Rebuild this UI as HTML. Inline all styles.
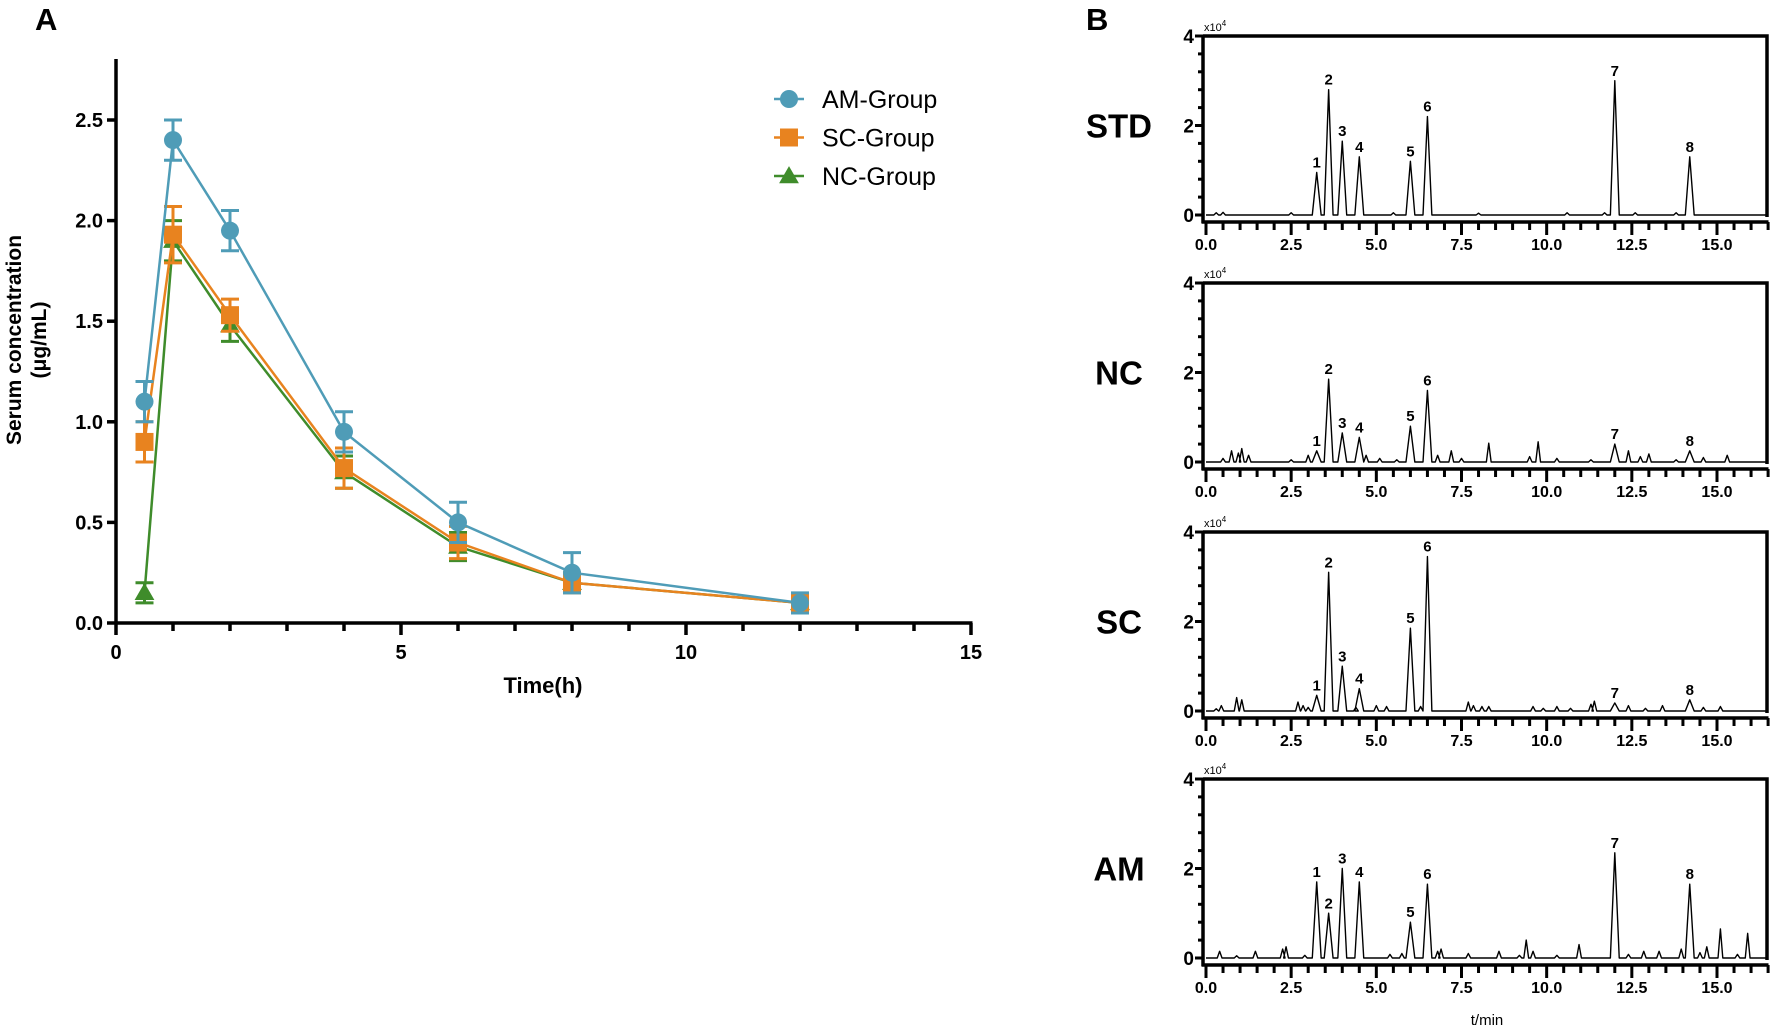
<!DOCTYPE html>
<html><head><meta charset="utf-8">
<style>
html,body{margin:0;padding:0;background:#fff;}
svg{display:block;font-family:"Liberation Sans",Arial,sans-serif;}
</style></head>
<body>
<svg id="fig" width="1772" height="1032" viewBox="0 0 1772 1032" xmlns="http://www.w3.org/2000/svg">
<g id="panelA"></g>
<g id="panelB"></g>
</svg>
<script>
// ---------- Panel A data ----------
const timesA = [0.5, 1, 2, 4, 6, 8, 12];
const amMean = [1.10, 2.40, 1.95, 0.95, 0.50, 0.25, 0.10];
const amErr  = [0.10, 0.10, 0.10, 0.10, 0.10, 0.10, 0.05];
const scMean = [0.90, 1.93, 1.53, 0.77, 0.40, 0.20, 0.10];
const scErr  = [0.10, 0.14, 0.08, 0.10, 0.08, 0.05, 0.03];
const ncMean = [0.15, 1.90, 1.48, 0.75, 0.38, 0.20, 0.10];
const ncErr  = [0.05, 0.10, 0.08, 0.08, 0.07, 0.04, 0.03];
const yTicksA = [0.0, 0.5, 1.0, 1.5, 2.0, 2.5];
const xTicksA = [0, 5, 10, 15];

// ---------- Panel B data ----------
const sampleNames = ["STD", "NC", "SC", "AM"];
const peakTimes = [3.25, 3.6, 4.0, 4.5, 6.0, 6.5, 12.0, 14.2];
const stdHeights = [0.95, 2.8, 1.65, 1.3, 1.2, 2.2, 3.0, 1.3];
const ncHeights  = [0.25, 1.85, 0.65, 0.55, 0.8, 1.6, 0.4, 0.25];
const scHeights  = [0.35, 3.1, 1.0, 0.5, 1.85, 3.45, 0.18, 0.25];
const amHeights  = [1.7, 1.0, 2.0, 1.7, 0.8, 1.65, 2.35, 1.65];
const stdMinorT = [0.3, 0.5, 2.5, 5.5, 8.0, 10.6, 11.7, 12.6, 13.8];
const stdMinorH = [0.05, 0.06, 0.05, 0.05, 0.04, 0.05, 0.05, 0.05, 0.05];
const ncMinorT = [0.5, 0.75, 0.95, 1.05, 1.25, 2.5, 3.0, 4.7, 5.1, 5.6, 6.8, 7.2, 7.5, 8.3, 9.5, 9.75, 10.3, 11.3, 12.4, 12.75, 13.0, 13.8, 14.6, 15.3];
const ncMinorH = [0.08, 0.25, 0.2, 0.3, 0.15, 0.05, 0.15, 0.15, 0.08, 0.05, 0.15, 0.25, 0.08, 0.42, 0.12, 0.45, 0.08, 0.05, 0.25, 0.12, 0.18, 0.05, 0.1, 0.15];
const scMinorT = [0.3, 0.45, 0.9, 1.05, 2.7, 2.85, 3.0, 4.4, 5.0, 5.3, 6.3, 7.7, 7.85, 8.1, 8.3, 9.6, 9.9, 10.3, 10.7, 11.3, 11.4, 12.4, 12.9, 13.4, 14.6, 15.1];
const scMinorH = [0.05, 0.12, 0.3, 0.25, 0.2, 0.12, 0.08, 0.08, 0.12, 0.1, 0.1, 0.2, 0.12, 0.1, 0.1, 0.1, 0.06, 0.1, 0.06, 0.15, 0.22, 0.12, 0.06, 0.12, 0.08, 0.1];
const amMinorT = [0.4, 0.9, 1.45, 2.25, 2.35, 2.9, 5.4, 5.75, 6.8, 6.9, 7.7, 8.6, 9.2, 9.4, 9.6, 10.3, 10.95, 12.4, 12.85, 13.3, 13.95, 14.5, 14.7, 15.1, 15.6, 15.9];
const amMinorH = [0.15, 0.05, 0.15, 0.2, 0.25, 0.06, 0.08, 0.1, 0.15, 0.2, 0.1, 0.15, 0.06, 0.4, 0.15, 0.06, 0.3, 0.08, 0.15, 0.15, 0.2, 0.12, 0.25, 0.65, 0.08, 0.55];
const xTicksB = [0, 2.5, 5, 7.5, 10, 12.5, 15];
const yTicksB = [0, 2, 4];

const NS = "http://www.w3.org/2000/svg";
function mk(tag, attrs, parent, text) {
  const e = document.createElementNS(NS, tag);
  for (const k in attrs) e.setAttribute(k, attrs[k]);
  if (text !== undefined) e.textContent = text;
  parent.appendChild(e);
  return e;
}

// ---------- Panel A ----------
(function(){
  const g = document.getElementById('panelA');
  const x0 = 116, pxPerH = (971 - 116) / 15;
  const y0 = 623, pxPerU = (623 - 120) / 2.5;
  const xs = v => x0 + v * pxPerH;
  const ys = v => y0 - v * pxPerU;

  let t = mk('text', {x: 35, y: 30, 'font-size': 31, 'font-weight': 'bold'}, g, 'A');
   

  let ax = mk('line', {x1: x0, y1: 59, x2: x0, y2: y0 + 1.5, stroke: '#000', 'stroke-width': 3.5}, g);
   
  let axx = mk('line', {x1: x0 - 1.5, y1: y0, x2: xs(15) + 1.5, y2: y0, stroke: '#000', 'stroke-width': 3.5}, g);
   

  yTicksA.forEach(v => {
    mk('line', {x1: x0 - 9, y1: ys(v), x2: x0, y2: ys(v), stroke: '#000', 'stroke-width': 3.5}, g);
    const l = mk('text', {x: x0 - 13, y: ys(v) + 7, 'font-size': 20, 'font-weight': 'bold', 'text-anchor': 'end'}, g, v.toFixed(1));
     
  });
  for (let h = 1; h <= 15; h++) {
    const len = (h % 5 === 0) ? 12 : 8;
    mk('line', {x1: xs(h), y1: y0, x2: xs(h), y2: y0 + len, stroke: '#000', 'stroke-width': 3.5}, g);
  }
  mk('line', {x1: xs(0), y1: y0, x2: xs(0), y2: y0 + 12, stroke: '#000', 'stroke-width': 3.5}, g);
  xTicksA.forEach(v => {
    const l = mk('text', {x: xs(v), y: y0 + 36, 'font-size': 20, 'font-weight': 'bold', 'text-anchor': 'middle'}, g, String(v));
     
  });
  let xt = mk('text', {x: 543, y: 693, 'font-size': 22, 'font-weight': 'bold', 'text-anchor': 'middle'}, g, 'Time(h)');
   
  let yt = mk('text', {x: 0, y: 0, 'font-size': 21, 'font-weight': 'bold', 'text-anchor': 'middle', transform: 'translate(21,340) rotate(-90)'}, g, 'Serum concentration');
   
  let yt2 = mk('text', {x: 0, y: 0, 'font-size': 21, 'font-weight': 'bold', 'text-anchor': 'middle', transform: 'translate(46,340) rotate(-90)'}, g, '(μg/mL)');
   

  const series = [
    {name: 'nc', mean: ncMean, err: ncErr, color: '#3f8c2b', marker: 'tri'},
    {name: 'sc', mean: scMean, err: scErr, color: '#e8831f', marker: 'sq'},
    {name: 'am', mean: amMean, err: amErr, color: '#4f9cb7', marker: 'circ'}
  ];
  function marker(gp, type, cx, cy, color, r) {
    if (type === 'circ') return mk('circle', {cx: cx, cy: cy, r: r, fill: color}, gp);
    if (type === 'sq') return mk('rect', {x: cx - r, y: cy - r, width: 2 * r, height: 2 * r, fill: color}, gp);
    return mk('polygon', {points: `${cx},${cy - r * 1.1} ${cx - r * 1.1},${cy + r * 0.8} ${cx + r * 1.1},${cy + r * 0.8}`, fill: color}, gp);
  }
  series.forEach(s => {
    const sg = mk('g', {}, g);
     
    const pts = timesA.map((tt, i) => xs(tt) + ',' + ys(s.mean[i])).join(' ');
    const pl = mk('polyline', {points: pts, fill: 'none', stroke: s.color, 'stroke-width': 2.5}, sg);
     
    timesA.forEach((tt, i) => {
      const cx = xs(tt), top = ys(s.mean[i] + s.err[i]), bot = ys(Math.max(0, s.mean[i] - s.err[i]));
      const eb = mk('path', {d: `M${cx},${top}V${bot}M${cx - 9},${top}H${cx + 9}M${cx - 9},${bot}H${cx + 9}`, stroke: s.color, 'stroke-width': 3, fill: 'none'}, sg);
       
      const m = marker(sg, s.marker, cx, ys(s.mean[i]), s.color, 9);
       
    });
  });

  const leg = mk('g', {}, g);
   
  const legItems = [['AM-Group', '#4f9cb7', 'circ'], ['SC-Group', '#e8831f', 'sq'], ['NC-Group', '#3f8c2b', 'tri']];
  legItems.forEach((it, i) => {
    const ly = 99 + i * 38.5;
    const eg = mk('g', {}, leg);
     
    mk('line', {x1: 774, y1: ly, x2: 804, y2: ly, stroke: it[1], 'stroke-width': 2.5}, eg);
    marker(eg, it[2], 789, ly, it[1], 9);
    mk('text', {x: 822, y: ly + 9, 'font-size': 25}, eg, it[0]);
  });
})();

// ---------- Panel B ----------
(function(){
  const g = document.getElementById('panelB');
  let t = mk('text', {x: 1086, y: 30, 'font-size': 31, 'font-weight': 'bold'}, g, 'B');
   
  const heights = [stdHeights, ncHeights, scHeights, amHeights];
  const minT = [stdMinorT, ncMinorT, scMinorT, amMinorT];
  const minH = [stdMinorH, ncMinorH, scMinorH, amMinorH];
  const zeros = [215, 462, 711, 958];
  const axL = 1203, xR = 1767;
  const xs = v => 1206 + v * (1717 - 1206) / 15;
  sampleNames.forEach((name, k) => {
    const z = zeros[k], top = z - 179;
    const ys = v => z - v * (179 / 4);
    const sg = mk('g', {}, g);
     
    const nl = mk('text', {x: 1119, y: ys(2) + 12, 'font-size': 33, 'font-weight': 'bold', 'text-anchor': 'middle'}, sg, name);
     
    mk('path', {d: `M${axL},${top}H${xR}V${z + 2}`, fill: 'none', stroke: '#000', 'stroke-width': 3.5}, sg);
    mk('line', {x1: axL, y1: top - 1.5, x2: axL, y2: z + 8, stroke: '#000', 'stroke-width': 3.5}, sg);
    mk('line', {x1: axL - 1.5, y1: z + 7, x2: xR + 1.5, y2: z + 7, stroke: '#000', 'stroke-width': 3.5}, sg);
    for (let i = 0; i <= 10; i++) {
      const yy = ys(i * 0.4);
      const big = (i % 5 === 0);
      mk('line', {x1: axL - (big ? 8 : 5), y1: yy, x2: axL, y2: yy, stroke: '#000', 'stroke-width': 3}, sg);
    }
    yTicksB.forEach(v => {
      const l = mk('text', {x: axL - 9, y: ys(v) + 7, 'font-size': 19, 'font-weight': 'bold', 'text-anchor': 'end'}, sg, String(v));
       
    });
    const sc = mk('text', {x: axL + 1, y: top - 5, 'font-size': 11}, sg, 'x10');
     
    mk('tspan', {dy: -5, 'font-size': 8}, sc, '4');
    for (let i = 0; i <= 33; i++) {
      const v = i * 0.5;
      const big = (i % 5 === 0);
      mk('line', {x1: xs(v), y1: z + 7, x2: xs(v), y2: z + 7 + (big ? 13 : 8), stroke: '#000', 'stroke-width': 3}, sg);
    }
    xTicksB.forEach(v => {
      const l = mk('text', {x: xs(v), y: z + 35, 'font-size': 16, 'font-weight': 'bold', 'text-anchor': 'middle'}, sg, v.toFixed(1));
       
    });
    const peaks = [];
    peakTimes.forEach((pt, i) => peaks.push([pt, heights[k][i], 0.13]));
    minT[k].forEach((pt, i) => peaks.push([pt, minH[k][i], 0.07]));
    peaks.sort((a, b) => a[0] - b[0]);
    let d = `M${xs(0)},${z}`;
    peaks.forEach(p => {
      d += `L${xs(p[0] - p[2])},${z}L${xs(p[0])},${ys(p[1])}L${xs(p[0] + p[2])},${z}`;
    });
    d += `L${xR},${z}`;
    const tr = mk('path', {d: d, fill: 'none', stroke: '#000', 'stroke-width': 1.4, 'stroke-linejoin': 'round'}, sg);
     
    peakTimes.forEach((pt, i) => {
      const l = mk('text', {x: xs(pt), y: ys(heights[k][i]) - 5, 'font-size': 15, 'font-weight': 'bold', 'text-anchor': 'middle'}, sg, String(i + 1));
       
    });
  });
  const xt = mk('text', {x: 1487, y: 1025, 'font-size': 15, 'text-anchor': 'middle'}, g, 't/min');
   
})();
</script>
</body></html>
